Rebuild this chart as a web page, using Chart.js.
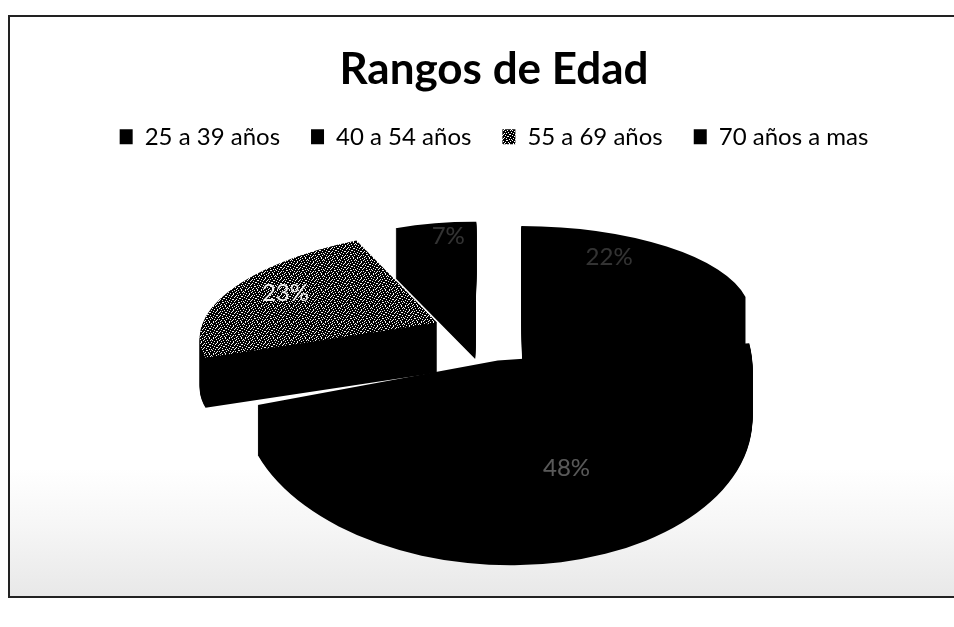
<!DOCTYPE html>
<html lang="es">
<head>
<meta charset="utf-8">
<style>
html,body{margin:0;padding:0;background:#fff;width:954px;height:627px;overflow:hidden}
#frame{position:absolute;left:8px;top:15px;width:946px;height:583px;border-left:2px solid #222;border-top:2px solid #222;border-bottom:2px solid #222;box-sizing:border-box;
background:linear-gradient(to bottom,#fff 0,#fff 78%,#f6f6f6 88%,#e8e8e8 100%)}
canvas{position:absolute;left:0;top:0}
</style>
</head>
<body>
<div id="frame"></div>
<canvas id="c" width="954" height="627"></canvas>
<script src="https://cdn.jsdelivr.net/npm/chart.js@4"></script>
<script>
const chartTitle = 'Rangos de Edad';
const categories = ['25 a 39 años', '40 a 54 años', '55 a 69 años', '70 años a mas'];
const values = [22, 48, 23, 7];
const sliceOffsets = [206, 195, 184, 228];
const radiusPx = 200;
const depthPx = 50;
// per-slice projection of the 3D view [xx, xy, yx, yy] in px per radius
const perspective = [
  [227, 1, 1, 86.6],
  [210, 6.4, 0, 127.5],
  [236, -6.4, -22, 93.6],
  [180, 2.6, -5, 74.8]
];
const viewShift = [-9, -13];
const labelNudge = [[-22, -6], [30, 15], [0, -7], [0, -15]];
const labelAlpha = [0.2, 0.35, 0.9, 0.2];
const fontFamily = 'Lato, "Open Sans", sans-serif';

function ditherPattern() {
  const bits = [
    '0100001000100100','0000100010000001','1000000100010010','0010010001000000',
    '0000010000001001','0100100010100000','0001000100000110','1000001001000000',
    '0010000000011000','0000110010000010','0100000100100000','0001001000000101',
    '1000000000110000','0010010100000010','0000100001001000','0101000010000100'];
  const cv = document.createElement('canvas');
  cv.width = 16; cv.height = 16;
  const g = cv.getContext('2d');
  g.fillStyle = '#000'; g.fillRect(0,0,16,16);
  g.fillStyle = '#fff';
  bits.forEach((r,y)=>[...r].forEach((b,x)=>{ if(b==='1') g.fillRect(x,y,1,1); }));
  return g.createPattern(cv,'repeat');
}
const sliceColors = ['#000000', '#000000', ditherPattern(), '#000000'];

const pie3d = {
  id: 'pie3d',
  beforeDatasetsDraw(chart) {
    const ctx = chart.ctx;
    const arcs = chart.getDatasetMeta(0).data;
    const place = (arc, i, dy, fn) => {
      const m = perspective[i];
      ctx.save();
      ctx.translate(arc.x + viewShift[0], arc.y + viewShift[1] + dy);
      ctx.transform(m[0]/radiusPx, m[1]/radiusPx, m[2]/radiusPx, m[3]/radiusPx, 0, 0);
      ctx.translate(-arc.x, -arc.y);
      fn();
      ctx.restore();
    };
    const shadeColors = arcs.map(a => a.options.backgroundColor);
    // sides
    arcs.forEach((arc,i) => {
      arc.options.backgroundColor = '#000000';
      for (let dy = depthPx; dy > 0; dy -= 1) place(arc, i, dy, () => arc.draw(ctx));
      arc.options.backgroundColor = shadeColors[i];
    });
    // tops; patterned fills stay aligned to screen pixels
    arcs.forEach((arc,i) => {
      const fill = arc.options.backgroundColor;
      if (fill instanceof CanvasPattern) {
        const m = perspective[i];
        fill.setTransform(new DOMMatrix([m[0]/radiusPx, m[1]/radiusPx, m[2]/radiusPx, m[3]/radiusPx, 0, 0]).inverse());
      }
      place(arc, i, 0, () => arc.draw(ctx));
    });
    // percentage labels
    ctx.save();
    ctx.font = '24px ' + fontFamily;
    ctx.textAlign = 'center';
    ctx.textBaseline = 'middle';
    arcs.forEach((arc,i) => {
      const c = arc.getCenterPoint();
      const m = perspective[i];
      const ux = (c.x - arc.x)/radiusPx, uy = (c.y - arc.y)/radiusPx;
      const sx = arc.x + viewShift[0] + m[0]*ux + m[2]*uy + labelNudge[i][0];
      const sy = arc.y + viewShift[1] + m[1]*ux + m[3]*uy + labelNudge[i][1];
      ctx.fillStyle = 'rgba(255,255,255,' + labelAlpha[i] + ')';
      ctx.fillText(values[i] + '%', sx, sy);
    });
    ctx.restore();
    return false;
  }
};

new Chart(document.getElementById('c'), {
  type: 'pie',
  data: {
    labels: categories,
    datasets: [{
      data: values,
      backgroundColor: sliceColors,
      borderWidth: 0,
      offset: sliceOffsets
    }]
  },
  options: {
    responsive: false,
    animation: false,
    devicePixelRatio: 1,
    radius: radiusPx,
    layout: { padding: { left: 34, right: 0, top: 43, bottom: 100 } },
    plugins: {
      tooltip: { enabled: false },
      title: {
        display: true,
        text: chartTitle,
        color: '#000',
        font: { family: fontFamily, size: 44, weight: 'bold' },
        padding: { top: 0, bottom: -2 }
      },
      legend: {
        display: true,
        position: 'top',
        labels: {
          color: '#000',
          boxWidth: 13,
          boxHeight: 15,
          padding: 31,
          font: { family: fontFamily, size: 24 }
        }
      }
    }
  },
  plugins: [pie3d]
});
</script>
</body>
</html>
